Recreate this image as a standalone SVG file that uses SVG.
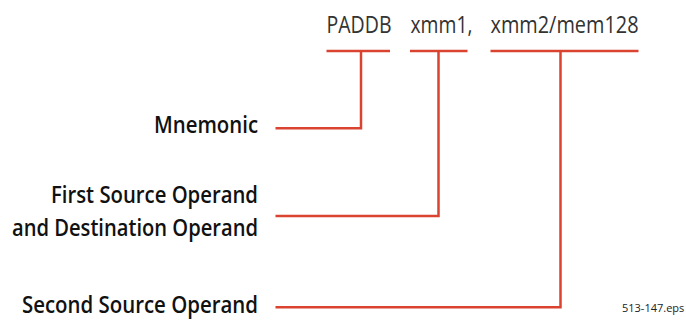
<svg xmlns="http://www.w3.org/2000/svg" width="686" height="320" viewBox="0 0 686 320">
<style>
.top{font-family:"Open Sans","Liberation Sans",sans-serif;font-size:24px;fill:#333;}
.lbl{font-family:"Open Sans","Liberation Sans",sans-serif;font-size:24px;font-weight:600;fill:#111;}
.note{font-family:"Open Sans","Liberation Sans",sans-serif;font-size:11px;fill:#222;}
.ln{fill:none;stroke:#d9432f;stroke-width:2.5;}
</style>
<rect width="686" height="320" fill="#fff"/>
<g id="instruction">
<text class="top" x="326.5" y="32.5" textLength="65" lengthAdjust="spacingAndGlyphs">PADDB</text>
<text class="top" x="410.5" y="32.5" textLength="62" lengthAdjust="spacingAndGlyphs">xmm1,</text>
<text class="top" x="490.5" y="32.5" textLength="148" lengthAdjust="spacingAndGlyphs">xmm2/mem128</text>
</g>
<g id="mnemonic">
<text class="lbl" x="154" y="133.3" textLength="104" lengthAdjust="spacingAndGlyphs">Mnemonic</text>
</g>
<g id="first-source">
<text class="lbl" x="51" y="203.3" textLength="207" lengthAdjust="spacingAndGlyphs">First Source Operand</text>
<text class="lbl" x="12" y="236" textLength="246" lengthAdjust="spacingAndGlyphs">and Destination Operand</text>
</g>
<g id="second-source">
<text class="lbl" x="22" y="313" textLength="236" lengthAdjust="spacingAndGlyphs">Second Source Operand</text>
</g>
<g id="connectors">
<path class="ln" d="M326.5 51H390M361 51V128.3H275.5"/>
<path class="ln" d="M410 51H467.5M438.5 51V216H275.5"/>
<path class="ln" d="M490.5 51H638.5M560.5 51V307.3H275.5"/>
</g>
<text class="note" x="622" y="312">513-147.eps</text>
</svg>
